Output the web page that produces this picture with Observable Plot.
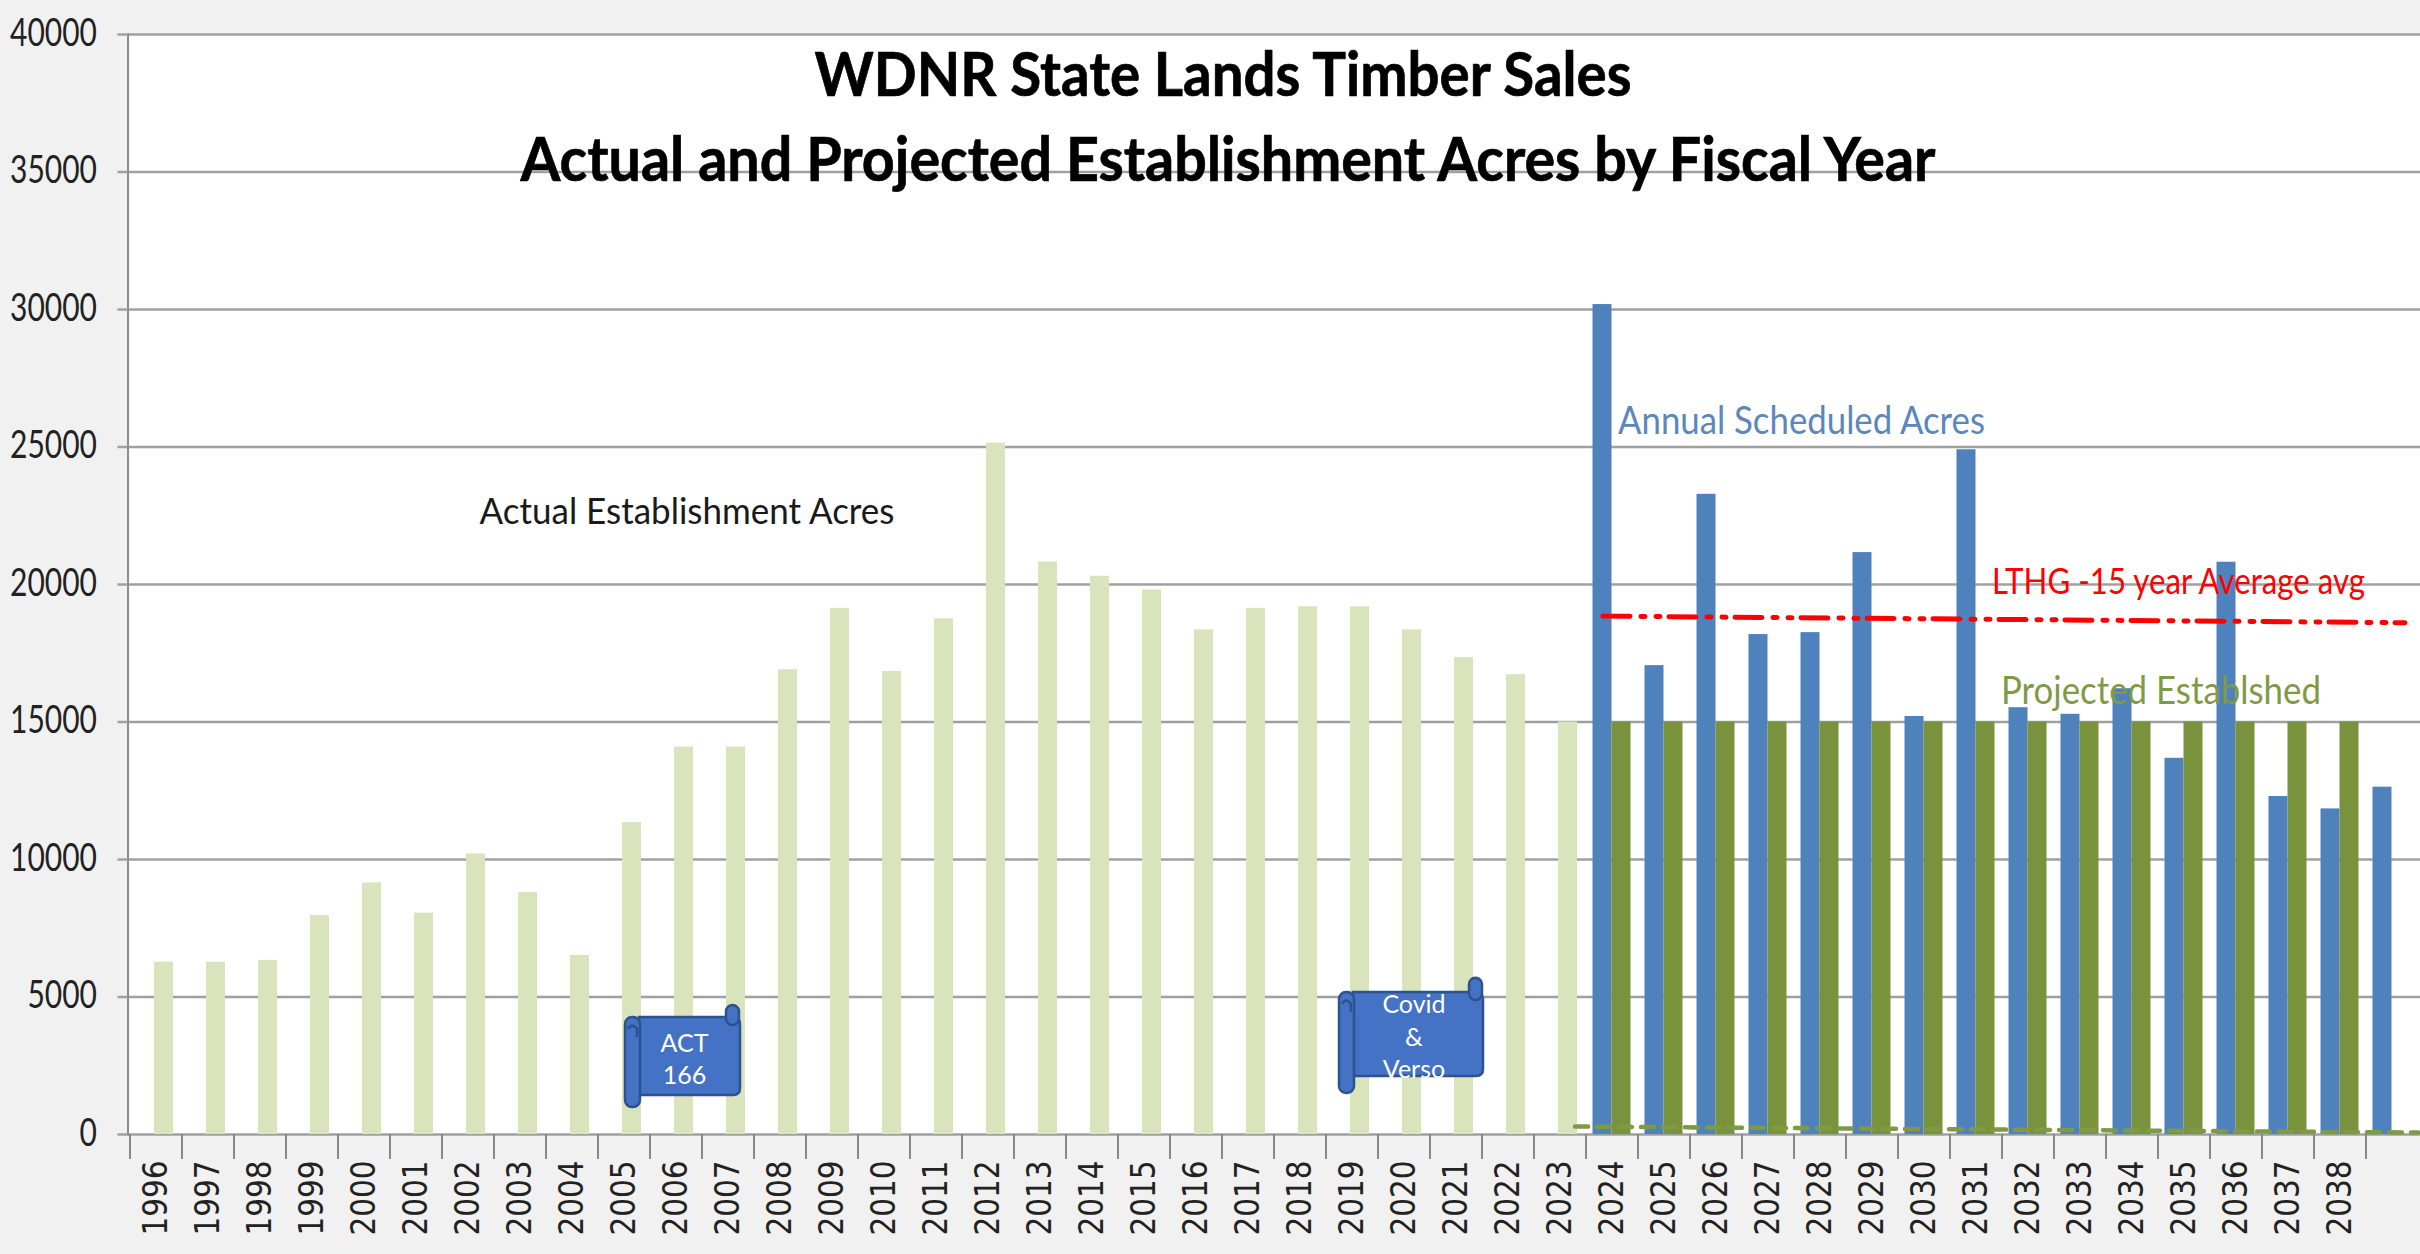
<!DOCTYPE html>
<html><head><meta charset="utf-8">
<style>html,body{margin:0;padding:0;background:#f1f1f1;overflow:hidden}svg{display:block}</style>
<script src="https://cdn.jsdelivr.net/npm/d3@7"></script>
<script src="https://cdn.jsdelivr.net/npm/@observablehq/plot@0.6"></script>
</head><body><div id="chart"></div>
<script>
const years = d3.range(1996, 2040);
const actualYears = d3.range(1996, 2024);
const actualAcres = [6265,6265,6330,7960,9150,8050,10200,8800,6510,11340,14090,14090,16900,19130,16840,18750,25140,20820,20300,19800,18350,19130,19190,19190,18350,17340,16720,15000];
const scheduledYears = d3.range(2024, 2040);
const scheduledAcres = [30180,17050,23280,18180,18250,21160,15200,24900,15520,15280,16210,13680,20810,12290,11840,12630];
const projectedYears = d3.range(2024, 2039);
const projectedAcres = [15000,15000,15000,15000,15000,15000,15000,15000,15000,15000,15000,15000,15000,15000,15000];
const lthgYears = [2024, 2039];
const lthgAcres = [18850, 18610];
const trendYears = [2023, 2039];
const trendAcres = [290, 70];
const yTicks = [0,5000,10000,15000,20000,25000,30000,35000,40000];
const titleLines = ["WDNR State Lands Timber Sales", "Actual and Projected Establishment Acres by Fiscal Year"];

const rows = (xs, ys) => xs.map((x, i) => ({x, y: ys[i]}));
const FONT = "Lato, 'Open Sans', sans-serif";
const BAR = 19;

function scroll(x1Year, dx1, x2Year, dx2, curlTop, top, bottom, rollBottom) {
  return (index, s) => {
    const half = s.x.bandwidth() / 2;
    const l = s.x(x1Year) + half + dx1;
    const r = s.x(x2Year) + half + dx2;
    const t = s.y(top), b = s.y(bottom), rb = s.y(rollBottom), ct = s.y(curlTop);
    const g = d3.create("svg:g").attr("fill", "#4472c4").attr("stroke", "#2f528f").attr("stroke-width", 2.5);
    g.append("path").attr("d", `M${l+14},${t}H${r-7}Q${r},${t} ${r},${t+7}V${b-7}Q${r},${b} ${r-7},${b}H${l+14}Z`);
    g.append("rect").attr("x", r-14).attr("y", ct).attr("width", 13).attr("height", t-ct+8).attr("rx", 6.5);
    g.append("rect").attr("x", l).attr("y", t).attr("width", 15).attr("height", rb-t).attr("rx", 7);
    g.append("path").attr("fill", "none").attr("d", `M${l+3},${t+12}q4,-7 9,0v8`);
    return g.node();
  };
}
// shifts the two ends of a line sideways, in pixels
const stretch = (a, b) => (index, scales, values, dim, ctx, next) => {
  values.x[0] += a; values.x[1] += b;
  return next(index, scales, values, dim, ctx);
};

const chart = Plot.plot({
  width: 2420, height: 1254,
  marginTop: 34, marginBottom: 120, marginLeft: 127.5, marginRight: 0,
  style: {background: "#f1f1f1", fontFamily: FONT},
  x: {type: "band", domain: years, paddingInner: 1 - BAR/52, paddingOuter: (1 - BAR/52)/2, align: 0.5},
  y: {domain: [0, 40000]},
  marks: [
    Plot.frame({fill: "white", stroke: null}),
    Plot.gridY(yTicks, {stroke: "#a0a0a0", strokeOpacity: 1, strokeWidth: 2.5}),
    Plot.frame({anchor: "left", stroke: "#8c8c8c", strokeWidth: 2}),
    Plot.axisY({ticks: yTicks, tickSize: 10, tickPadding: 21, tickFormat: d => String(d), label: null,
      stroke: "#a0a0a0", strokeWidth: 2.5, fill: "#222"}),
    Plot.axisX({ticks: years, tickSize: 25, dx: -26, text: null, label: null, stroke: "#888", strokeWidth: 2}),
    Plot.axisX({ticks: years.slice(0, -1), tickSize: 0, tickPadding: 26, tickRotate: -90, label: null,
      tickFormat: d => String(d), fill: "#222"}),
    Plot.barY(rows(actualYears, actualAcres), {x: "x", y: "y", dx: 8, fill: "#d9e4bd"}),
    Plot.barY(rows(scheduledYears, scheduledAcres), {x: "x", y: "y", dx: -9.5, fill: "#4f81bd"}),
    Plot.barY(rows(projectedYears, projectedAcres), {x: "x", y: "y", dx: 9.5, fill: "#78933b"}),
    Plot.line(rows(trendYears, trendAcres), {x: "x", y: "y", stroke: "#7f9a45", strokeWidth: 4.5, strokeDasharray: "13 9", render: stretch(15, 26)}),
    Plot.line(rows(lthgYears, lthgAcres), {x: "x", y: "y", stroke: "#ff0000", strokeWidth: 5, strokeDasharray: "27 11 4 11 4 9", render: stretch(-9, 13)}),
    scroll(2005, 1.5, 2007, 12.5, 4690, 4255, 1418, 980),
    scroll(2019, -12.5, 2021, 27.5, 5680, 5160, 2110, 1490),
    Plot.text([titleLines[0]], {x: () => 2019, y: () => 38500, text: d => d, dx: -129, fontSize: 62, fontWeight: 700, fill: "#000", stroke: "#000", strokeWidth: 0.7, fontFamily: FONT, lineAnchor: "middle"}),
    Plot.text([titleLines[1]], {x: () => 2019, y: () => 35400, text: d => d, dx: -124, fontSize: 62, fontWeight: 700, fill: "#000", stroke: "#000", strokeWidth: 0.7, fontFamily: FONT, lineAnchor: "middle"}),
    Plot.text(["Actual Establishment Acres"], {x: () => 2007, y: () => 22620, text: d => d, dx: -41, fontSize: 36, fill: "#1a1a1a", fontFamily: FONT, lineAnchor: "middle"}),
    Plot.text(["Annual Scheduled Acres"], {x: () => 2024, y: () => 25930, text: d => d, dx: 6, textAnchor: "start", fontSize: 38, fill: "#5c87bd", fontFamily: FONT, lineAnchor: "middle"}),
    Plot.text(["LTHG -15 year Average avg"], {x: () => 2032, y: () => 20070, text: d => d, dx: -36, textAnchor: "start", fontSize: 37, fill: "#ff0000", fontFamily: FONT, lineAnchor: "middle"}),
    Plot.text(["Projected Establshed"], {x: () => 2032, y: () => 16080, text: d => d, dx: -27, textAnchor: "start", fontSize: 38, fill: "#7f9a45", fontFamily: FONT, lineAnchor: "middle"}),
    Plot.text(["ACT", "166"], {x: () => 2006, y: (d, i) => [3300, 2120][i], text: d => d, dx: 8.5, fontSize: 25, fill: "#fff", fontFamily: FONT, lineAnchor: "middle"}),
    Plot.text(["Covid", "&", "Verso"], {x: () => 2020, y: (d, i) => [4710, 3510, 2350][i], text: d => d, dx: 10, fontSize: 25, fill: "#fff", fontFamily: FONT, lineAnchor: "middle"})
  ]
});

// Narrow the live text to the reference's condensed widths.
const widths = new Map([
  [titleLines[0], 817], [titleLines[1], 1415],
  ["Actual Establishment Acres", 415], ["Annual Scheduled Acres", 367],
  ["LTHG -15 year Average avg", 373], ["Projected Establshed", 320]
]);
chart.querySelectorAll("text").forEach(t => {
  const s = t.textContent;
  if (widths.has(s)) { t.setAttribute("textLength", widths.get(s)); t.setAttribute("lengthAdjust", "spacingAndGlyphs"); }
});
chart.querySelectorAll('g[aria-label="y-axis tick label"] text').forEach(t => {
  t.style.fontSize = "38px"; t.style.fontFamily = FONT;
  t.setAttribute("dy", "-0.02em");
  t.setAttribute("textLength", 17.4 * t.textContent.length); t.setAttribute("lengthAdjust", "spacingAndGlyphs");
});
chart.querySelectorAll('g[aria-label="x-axis tick label"] text').forEach(t => {
  t.style.fontSize = "34px"; t.style.fontFamily = "'DejaVu Sans'";
  t.setAttribute("textLength", 75); t.setAttribute("lengthAdjust", "spacingAndGlyphs");
});
document.getElementById("chart").append(chart);
</script></body></html>
